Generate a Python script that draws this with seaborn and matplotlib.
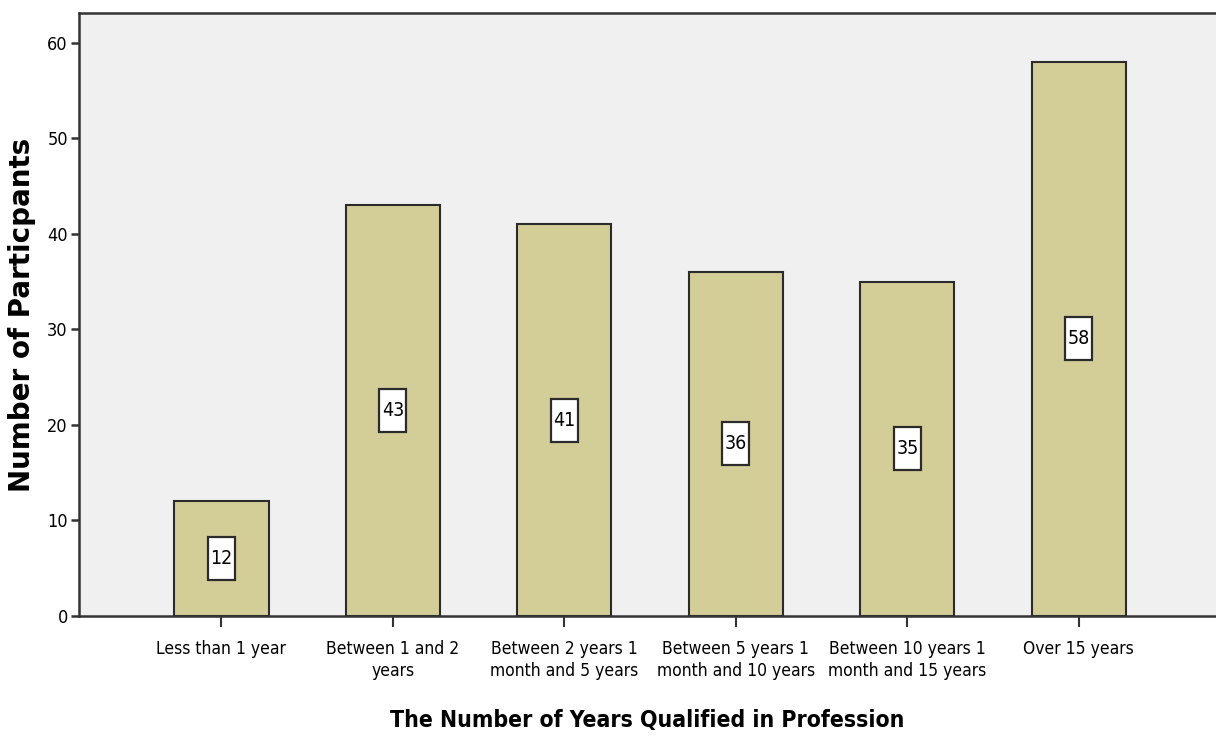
import matplotlib.pyplot as plt
import matplotlib.transforms as mtransforms
import pandas as pd
import seaborn as sns
from matplotlib.patches import Rectangle

# 类别与人数
categories = [
    "Less than 1 year",
    "Between 1 and 2\nyears",
    "Between 2 years 1\nmonth and 5 years",
    "Between 5 years 1\nmonth and 10 years",
    "Between 10 years 1\nmonth and 15 years",
    "Over 15 years",
]
participants = [12, 43, 41, 36, 35, 58]
y_ticks = [0, 10, 20, 30, 40, 50, 60]

df = pd.DataFrame({"category": categories, "count": participants})

sns.set_theme(style="white")
plt.rcParams["font.family"] = ["DejaVu Sans"]
plt.rcParams["font.stretch"] = "condensed"
plt.rcParams["text.color"] = "black"
plt.rcParams["xtick.color"] = "black"
plt.rcParams["ytick.color"] = "black"
plt.rcParams["axes.labelcolor"] = "black"

fig = plt.figure(figsize=(12.16, 7.36), dpi=100)
ax = fig.add_axes([79 / 1216, 1 - 616 / 736, 1 - 79 / 1216, (616 - 13) / 736])
ax.set_facecolor("#f0f0f0")

sns.barplot(
    data=df,
    x="category",
    y="count",
    color="#d3ce97",
    saturation=1,
    width=0.55,
    edgecolor="#2b2b2b",
    linewidth=1.5,
    ax=ax,
)

# 柱中间的数值标签（白色方框）
for bar, val in zip(ax.patches, participants):
    x = bar.get_x() + bar.get_width() / 2
    trans = fig.dpi_scale_trans + mtransforms.ScaledTranslation(x, val / 2, ax.transData)
    ax.add_patch(
        Rectangle((-0.135, -0.215), 0.27, 0.43, transform=trans, facecolor="white",
                  edgecolor="#2b2b2b", linewidth=1.6, zorder=4)
    )
    ax.text(x, val / 2, str(val), ha="center", va="center", fontsize=14, color="black", zorder=5)

ax.set_xlim(-0.83, 5.8)
ax.set_ylim(0, 63.1)
ax.set_yticks(y_ticks)

for side in ["left", "top", "bottom"]:
    ax.spines[side].set_color("#333333")
    ax.spines[side].set_linewidth(1.8)
ax.spines["right"].set_visible(False)

ax.tick_params(axis="y", direction="out", length=6, width=1.8, color="#333333", labelsize=13, pad=2)
ax.tick_params(axis="x", direction="out", length=8, width=1.5, color="#333333", labelsize=12.5, pad=9)
ax.tick_params(left=True, bottom=True)
for lbl in ax.get_xticklabels():
    lbl.set_linespacing(1.3)

ax.set_xlabel("The Number of Years Qualified in Profession", fontsize=16.5, fontweight="bold", labelpad=21)
ax.set_ylabel(
    "Number of Particpants",
    fontsize=20,
    fontweight="bold",
    fontstretch="normal",
    labelpad=8,
)

plt.savefig("out.png", dpi=100)
plt.close()
